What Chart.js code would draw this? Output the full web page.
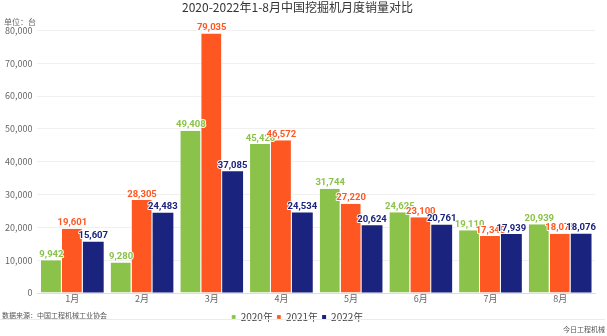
<!DOCTYPE html>
<html><head><meta charset="utf-8">
<script src="https://cdn.jsdelivr.net/npm/chart.js@4/dist/chart.umd.min.js"></script>
<style>html,body{margin:0;padding:0;background:#fff}#wrap{width:607px;height:336px;position:relative}</style>
</head><body><div id="wrap"><canvas id="c"></canvas></div>
<script>
const categories = ['1月','2月','3月','4月','5月','6月','7月','8月'];
const seriesNames = ['2020年','2021年','2022年'];
const sales2020 = [9942, 9280, 49408, 45428, 31744, 24625, 19110, 20939];
const sales2021 = [19601, 28305, 79035, 46572, 27220, 23100, 17345, 18075];
const sales2022 = [15607, 24483, 37085, 24534, 20624, 20761, 17939, 18076];
const yTicks = [0,10000,20000,30000,40000,50000,60000,70000,80000];
const colors = ['#8bc34a','#ff5722','#1a237e'];
const FONT = "'Noto Sans CJK SC','Noto Sans',sans-serif";

const labelPlugin = {
  id:'barLabels',
  afterDatasetsDraw(chart){
    const ctx = chart.ctx;
    ctx.save();
    ctx.font = "bold 9.5px Roboto, 'DejaVu Sans', sans-serif";
    ctx.textAlign = 'center';
    ctx.textBaseline = 'bottom';
    chart.data.datasets.forEach((ds,i)=>{
      const meta = chart.getDatasetMeta(i);
      meta.data.forEach((bar,j)=>{
        const t = ds.data[j].toLocaleString('en-US');
        ctx.lineWidth = 2; ctx.strokeStyle = 'rgba(255,255,255,0.9)'; ctx.lineJoin='round';
        ctx.strokeText(t, bar.x, bar.y - 1);
        ctx.fillStyle = colors[i];
        ctx.fillText(t, bar.x, bar.y - 1);
      });
    });
    ctx.restore();
  }
};
const extrasPlugin = {
  id:'extras',
  afterDraw(chart){
    const ctx = chart.ctx;
    ctx.save();
    ctx.fillStyle = '#666';
    ctx.font = "8px " + FONT;
    ctx.textAlign = 'left'; ctx.textBaseline = 'middle';
    ctx.fillText('单位：台', 4, 22);
    ctx.fillStyle = '#555';
    ctx.font = "7px " + FONT;
    ctx.fillText('数据来源：中国工程机械工业协会', 2, 315);
    ctx.textAlign = 'right';
    ctx.fillText('今日工程机械', 605, 329);
    ctx.strokeStyle = '#ebebeb'; ctx.lineWidth = 1;
    ctx.beginPath(); ctx.moveTo(0, 319.5); ctx.lineTo(605, 319.5); ctx.stroke();
    ctx.restore();
  }
};

new Chart(document.getElementById('c'), {
  type:'bar',
  data:{
    labels: categories,
    datasets:[
      {label:seriesNames[0], data:sales2020, backgroundColor:colors[0], borderColor:'#fff', borderWidth:{left:0,right:1,top:0,bottom:0}},
      {label:seriesNames[1], data:sales2021, backgroundColor:colors[1], borderColor:'#fff', borderWidth:{left:0,right:1,top:0,bottom:0}},
      {label:seriesNames[2], data:sales2022, backgroundColor:colors[2], borderColor:'#fff', borderWidth:{left:0,right:0,top:0,bottom:0}}
    ]
  },
  options:{
    responsive:true, maintainAspectRatio:false, animation:false,
    layout:{padding:{left:0,right:12,top:0,bottom:4}},
    datasets:{bar:{categoryPercentage:0.9, barPercentage:1.0}},
    plugins:{
      title:{display:true, text:'2020-2022年1-8月中国挖掘机月度销量对比', color:'#333', font:{family:FONT, size:12, weight:'normal'}, padding:{top:0,bottom:16}},
      legend:{position:'bottom', labels:{usePointStyle:true, pointStyle:'rect', boxWidth:4, boxHeight:4, padding:4, color:'#444', font:{family:FONT, size:10}}},
      tooltip:{enabled:false}
    },
    scales:{
      x:{grid:{display:false, drawTicks:false}, border:{color:'#ddd'}, ticks:{color:'#666', font:{family:FONT, size:9}, padding:0},
         afterFit(scale){ scale.height = 15; }},
      y:{min:0, max:80000, afterBuildTicks(axis){axis.ticks = yTicks.map(v=>({value:v}));},
         grid:{color:'#f0f0f0', drawTicks:false}, border:{display:false},
         ticks:{color:'#666', padding:5, font:{family:FONT, size:9}, callback:v=>v.toLocaleString('en-US')}}
    }
  },
  plugins:[labelPlugin, extrasPlugin]
});
</script></body></html>
